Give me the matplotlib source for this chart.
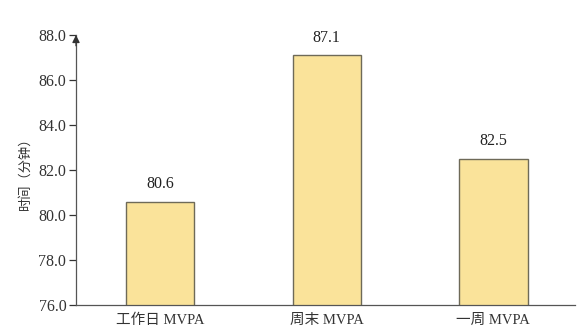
import matplotlib
matplotlib.use("Agg")
import matplotlib.pyplot as plt

categories = ["工作日 MVPA", "周末 MVPA", "一周 MVPA"]
values = [80.6, 87.1, 82.5]
yticks = [76.0, 78.0, 80.0, 82.0, 84.0, 86.0, 88.0]
ylabel = "时间（分钟）"

plt.rcParams['font.family'] = ['Liberation Serif', 'Noto Sans CJK SC', 'DejaVu Sans']

fig = plt.figure(figsize=(5.88, 3.34), dpi=100)
ax = fig.add_axes([76/588, (334-305)/334, (575-76)/588, (305-35)/334])

x = list(range(len(categories)))
bars = ax.bar(x, values, width=0.41, color='#FAE39A', edgecolor='#6E6A58', linewidth=1.0, zorder=2)
for xi, v in zip(x, values):
    ax.text(xi, v + 0.42, f"{v:.1f}", ha='center', va='bottom', fontsize=11.5, color='#222222')

ax.set_ylim(76, 88)
ax.set_xlim(-0.505, 2.49)
ax.set_yticks(yticks)
ax.set_yticklabels([f"{t:.1f}" for t in yticks])
ax.set_xticks(x)
ax.set_xticklabels(categories)
ax.tick_params(axis='y', direction='out', length=5, width=0.9, labelsize=11.5, colors='#333333', pad=2)
ax.tick_params(axis='x', length=0, labelsize=10.5, colors='#333333', pad=6)
ax.set_ylabel(ylabel, fontsize=9.5, color='#333333')
ax.yaxis.set_label_coords(-(76-32)/499, 0.5)

for s in ['top', 'right']:
    ax.spines[s].set_visible(False)
for s in ['left', 'bottom']:
    ax.spines[s].set_color('#555555')
    ax.spines[s].set_linewidth(0.9)

ax.annotate('', xy=(0, 1.0), xycoords='axes fraction', xytext=(0, 0.96),
            arrowprops=dict(arrowstyle='-|>', color='#333333', lw=0.9, mutation_scale=11,
                            shrinkA=0, shrinkB=0))

fig.savefig('out.png', dpi=100)
